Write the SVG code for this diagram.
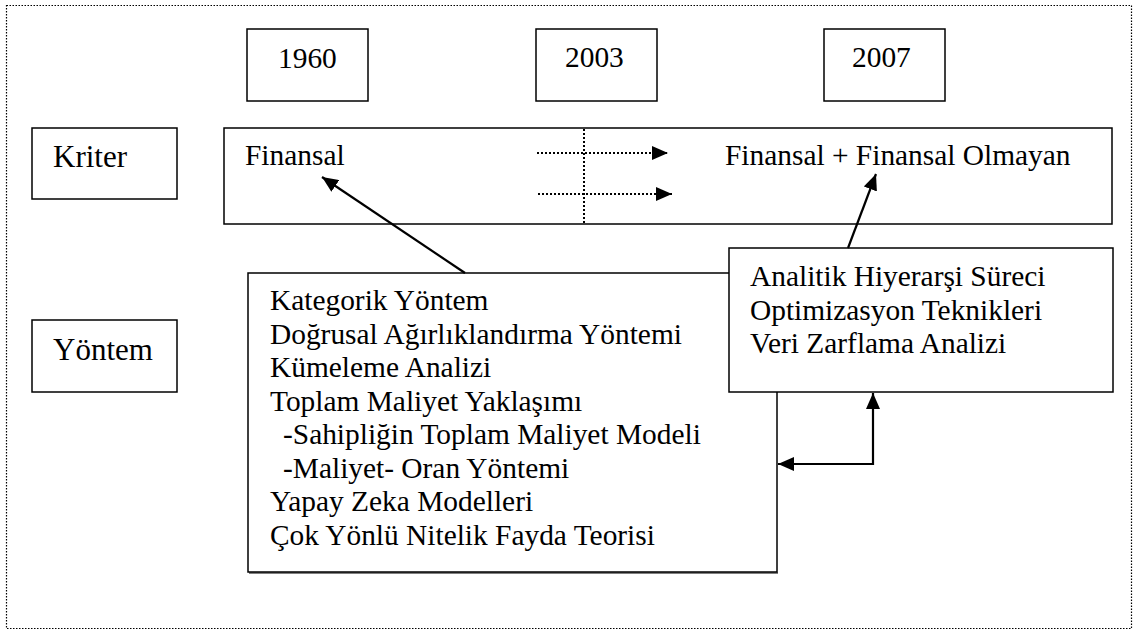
<svg xmlns="http://www.w3.org/2000/svg" width="1138" height="633" viewBox="0 0 1138 633">
  <style>
    .t { font-size: 29.4px; fill: #000; }
    .big { font-size: 31px; }
    .box { fill: #fff; stroke: #000; stroke-width: 1.5; }
    .frame { fill: none; stroke: #000; stroke-width: 1.2; stroke-dasharray: 1.5 1.5; }
    .solid { fill: none; stroke: #000; stroke-width: 2.2; }
    .dotted { fill: none; stroke: #000; stroke-width: 2; stroke-dasharray: 2 2; }
  </style>
  <defs>
    <marker id="head" viewBox="0 0 16 14" refX="16" refY="7" markerWidth="16" markerHeight="14" markerUnits="userSpaceOnUse" orient="auto-start-reverse">
      <path d="M0,0 L16,7 L0,14 Z" fill="#000"/>
    </marker>
  </defs>

  <rect x="0" y="0" width="1138" height="633" fill="#fff"/>

  <!-- outer dotted frame -->
  <rect class="frame" x="6.5" y="5.5" width="1125" height="623"/>

  <g font-family="Liberation Serif">
  <!-- year headers -->
  <g id="y1960">
    <rect class="box" x="247" y="29" width="121" height="72"/>
    <text class="t" x="278" y="68">1960</text>
  </g>
  <g id="y2003">
    <rect class="box" x="536" y="29" width="121" height="72"/>
    <text class="t" x="565" y="67">2003</text>
  </g>
  <g id="y2007">
    <rect class="box" x="824" y="29" width="121" height="72"/>
    <text class="t" x="852" y="67">2007</text>
  </g>

  <!-- row labels -->
  <g id="kriter">
    <rect class="box" x="32" y="128" width="145" height="71"/>
    <text class="t big" x="53" y="167">Kriter</text>
  </g>
  <g id="yontem">
    <rect class="box" x="32" y="320" width="145" height="72"/>
    <text class="t big" x="53" y="360">Yöntem</text>
  </g>

  <!-- criteria strip -->
  <g id="criteria">
    <rect class="box" x="224" y="128" width="888" height="96"/>
    <text class="t" x="245" y="165">Finansal</text>
    <text class="t" x="725" y="165">Finansal + Finansal Olmayan</text>
  </g>

  <!-- earlier methods -->
  <g id="methods-early">
    <rect class="box" x="248" y="273" width="529" height="299"/>
    <line x1="249" y1="573" x2="778" y2="573" stroke="#000" stroke-width="1"/>
    <text class="t" x="270" y="310">Kategorik Yöntem</text>
    <text class="t" x="270" y="343.5">Doğrusal Ağırlıklandırma Yöntemi</text>
    <text class="t" x="270" y="377">Kümeleme Analizi</text>
    <text class="t" x="270" y="410.5">Toplam Maliyet Yaklaşımı</text>
    <text class="t" x="283" y="444">-Sahipliğin Toplam Maliyet Modeli</text>
    <text class="t" x="283" y="477.5">-Maliyet- Oran Yöntemi</text>
    <text class="t" x="270" y="511">Yapay Zeka Modelleri</text>
    <text class="t" x="270" y="544.5">Çok Yönlü Nitelik Fayda Teorisi</text>
  </g>

  <!-- later methods -->
  <g id="methods-late">
    <rect class="box" x="729" y="248" width="384" height="144"/>
    <text class="t" x="750" y="286">Analitik Hiyerarşi Süreci</text>
    <text class="t" x="750" y="319.5">Optimizasyon Teknikleri</text>
    <text class="t" x="750" y="353">Veri Zarflama Analizi</text>
  </g>
  </g>

  <!-- connectors -->
  <g id="connectors">
    <line class="dotted" x1="584" y1="129" x2="584" y2="223"/>
    <line class="dotted" x1="537" y1="153" x2="668" y2="153" marker-end="url(#head)"/>
    <line class="dotted" x1="538" y1="194" x2="672" y2="194" marker-end="url(#head)"/>
    <line class="solid" x1="465" y1="273" x2="322" y2="177" marker-end="url(#head)"/>
    <line class="solid" x1="848" y1="248" x2="876" y2="174" marker-end="url(#head)"/>
    <polyline class="solid" points="778,464 873,464 873,393" marker-start="url(#head)" marker-end="url(#head)"/>
  </g>
</svg>
